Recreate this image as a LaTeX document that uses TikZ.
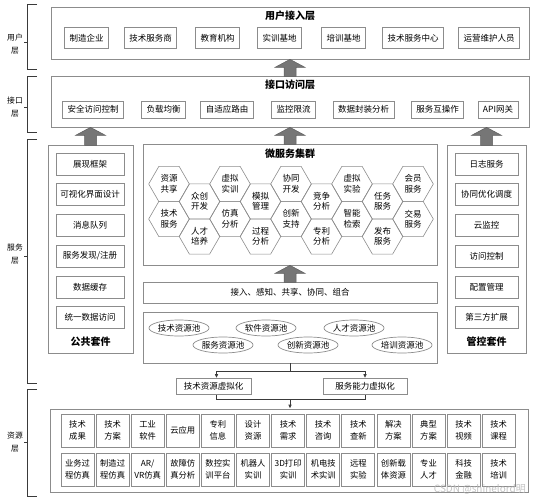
\documentclass[tikz,border=0pt]{standalone}
\usepackage{fontspec}
\setmainfont{Noto Sans CJK SC}
\usepackage{xcolor}
\usetikzlibrary{shapes.geometric,arrows.meta}

\definecolor{boxgray}{HTML}{8C8C8C}
\definecolor{arrowgray}{HTML}{767676}
\definecolor{linedark}{HTML}{3A3A3A}

\tikzset{
  layerbox/.style={draw=boxgray, line width=0.7pt},
  itembox/.style={draw=boxgray, line width=0.7pt, inner xsep=5pt, inner ysep=0pt, font=\fontsize{8.5}{10}\selectfont},
  sidebox/.style={draw=boxgray, line width=0.7pt, minimum width=68pt, minimum height=22pt, inner sep=0pt, font=\fontsize{8.5}{10}\selectfont},
  hexa/.style={regular polygon, regular polygon sides=6, draw=boxgray, line width=0.6pt, minimum size=40.6pt, inner sep=0pt, align=center, font=\fontsize{8.5}{10.5}\selectfont},
  pool/.style={ellipse, draw=boxgray, line width=0.7pt, minimum width=59pt, minimum height=16pt, inner sep=0pt, font=\fontsize{8.5}{10}\selectfont},
  resbox/.style={draw=boxgray, line width=0.7pt, minimum width=33pt, minimum height=33pt, inner sep=0pt, align=center, font=\fontsize{8.3}{12.5}\selectfont},
  title/.style={font=\bfseries\fontsize{10}{12}\selectfont, inner sep=0pt},
  blockarrow/.style={fill=arrowgray, draw=arrowgray!80!black, line width=0.5pt},
  brace/.style={draw=linedark, line width=0.8pt},
  layerlabel/.style={fill=white, inner sep=1pt, align=center, font=\fontsize{7.8}{12.5}\selectfont},
  conn/.style={draw=linedark, line width=0.8pt},
}

\begin{document}
\begin{tikzpicture}[x=1pt, y=-1pt]
\useasboundingbox (0,0) rectangle (534,500);

% layer brackets
\draw[brace] (37,4) -- (27,4) -- (27,69) -- (37,69);
\draw[brace] (6,42) -- (27,42);
\node[layerlabel] (lbuser) at (15,44) {用户\\层};
\draw[brace] (37,76) -- (27,76) -- (27,132) -- (37,132);
\draw[brace] (6,107) -- (27,107);
\node[layerlabel] (lbintf) at (15,107) {接口\\层};
\draw[brace] (37,139) -- (27,139) -- (27,383) -- (37,383);
\draw[brace] (6,256) -- (27,256);
\node[layerlabel] (lbserv) at (15,254) {服务\\层};
\draw[brace] (37,389) -- (27,389) -- (27,496) -- (37,496);
\draw[brace] (6,442) -- (27,442);
\node[layerlabel] (lbres) at (15,442) {资源\\层};

% user access layer
\node[layerbox, minimum width=478pt, minimum height=52pt] (user) at (290,33) {};
\node[title] (usertitle) at (290,16) {用户接入层};
\node[itembox, minimum height=21pt] (u1) at (86.5,38) {制造企业};
\node[itembox, minimum height=21pt] (u2) at (150.5,38) {技术服务商};
\node[itembox, minimum height=21pt] (u3) at (217.5,38) {教育机构};
\node[itembox, minimum height=21pt] (u4) at (279.5,38) {实训基地};
\node[itembox, minimum height=21pt] (u5) at (343.5,38) {培训基地};
\node[itembox, minimum height=21pt] (u6) at (413,38) {技术服务中心};
\node[itembox, minimum height=21pt] (u7) at (489,38) {运营维护人员};

% interface layer
\node[layerbox, minimum width=478pt, minimum height=51pt] (intf) at (290,101.5) {};
\node[title] (intftitle) at (290,85) {接口访问层};
\node[itembox, minimum height=17pt] (i1) at (93,109.5) {安全访问控制};
\node[itembox, minimum height=17pt] (i2) at (163.5,109.5) {负载均衡};
\node[itembox, minimum height=17pt] (i3) at (227,109.5) {自适应路由};
\node[itembox, minimum height=17pt] (i4) at (293.5,109.5) {监控限流};
\node[itembox, minimum height=17pt] (i5) at (363.5,109.5) {数据封装分析};
\node[itembox, minimum height=17pt] (i6) at (437.5,109.5) {服务互操作};
\node[itembox, minimum height=17pt] (i7) at (498,109.5) {API网关};

% public kit
\node[layerbox, minimum width=85pt, minimum height=208pt] (pub) at (90.5,249) {};
\node[sidebox] (p1) at (90,164) {展现框架};
\node[sidebox] (p2) at (90,194.5) {可视化界面设计};
\node[sidebox] (p3) at (90,225.5) {消息队列};
\node[sidebox] (p4) at (90,256) {服务发现/注册};
\node[sidebox] (p5) at (90,287) {数据缓存};
\node[sidebox] (p6) at (90,317) {统一数据访问};
\node[title] (pubtitle) at (90.5,342) {公共套件};

% control kit
\node[layerbox, minimum width=79pt, minimum height=208pt] (ctrl) at (486.5,249) {};
\node[sidebox, minimum width=63pt] (c1) at (486.5,164) {日志服务};
\node[sidebox, minimum width=63pt] (c2) at (486.5,194.5) {协同优化调度};
\node[sidebox, minimum width=63pt] (c3) at (486.5,225.5) {云监控};
\node[sidebox, minimum width=63pt] (c4) at (486.5,256) {访问控制};
\node[sidebox, minimum width=63pt] (c5) at (486.5,287) {配置管理};
\node[sidebox, minimum width=63pt] (c6) at (486.5,317) {第三方扩展};
\node[title] (ctrltitle) at (486.5,342) {管控套件};

% micro service cluster
\node[layerbox, minimum width=294pt, minimum height=121pt] (micro) at (290,204.5) {};
\node[title] (microtitle) at (290,154) {微服务集群};
\node[hexa] (h1) at (169,184) {资源\\共享};
\node[hexa] (h2) at (169,219) {技术\\服务};
\node[hexa] (h3) at (199.5,201.5) {众创\\开发};
\node[hexa] (h4) at (199.5,236.5) {人才\\培养};
\node[hexa] (h5) at (230,184) {虚拟\\实训};
\node[hexa] (h6) at (230,219) {仿真\\分析};
\node[hexa] (h7) at (260.5,201.5) {模拟\\管理};
\node[hexa] (h8) at (260.5,236.5) {过程\\分析};
\node[hexa] (h9) at (291,184) {协同\\开发};
\node[hexa] (h10) at (291,219) {创新\\支持};
\node[hexa] (h11) at (321.5,201.5) {竞争\\分析};
\node[hexa] (h12) at (321.5,236.5) {专利\\分析};
\node[hexa] (h13) at (352,184) {虚拟\\实验};
\node[hexa] (h14) at (352,219) {智能\\检索};
\node[hexa] (h15) at (382.5,201.5) {任务\\服务};
\node[hexa] (h16) at (382.5,236.5) {发布\\服务};
\node[hexa] (h17) at (413,184) {会员\\服务};
\node[hexa] (h18) at (413,219) {交易\\服务};

% access strip and resource pools
\node[layerbox, minimum width=294pt, minimum height=21pt, font=\fontsize{8.5}{10}\selectfont] (access) at (290,292.5) {接入、感知、共享、协同、组合};
\node[layerbox, minimum width=294pt, minimum height=51pt] (pools) at (290,337.5) {};
\node[pool] (o1) at (179,328) {技术资源池};
\node[pool] (o2) at (223,345) {服务资源池};
\node[pool] (o3) at (266,328) {软件资源池};
\node[pool] (o4) at (308,345) {创新资源池};
\node[pool] (o5) at (354,328) {人才资源池};
\node[pool] (o6) at (402,345) {培训资源池};

% virtualization
\node[itembox, minimum width=75pt, minimum height=16pt] (tv) at (213.5,386.5) {技术资源虚拟化};
\node[itembox, minimum width=84pt, minimum height=16pt] (sv) at (365,386.5) {服务能力虚拟化};
\coordinate (split) at (290,371);
\coordinate (merge) at (290,399);
\draw[conn] (pools.south -| split) -- (split);
\draw[conn, -{Latex[length=4pt,width=3.6pt]}] (split) -| ([xshift=3pt]tv.north);
\draw[conn, -{Latex[length=4pt,width=3.6pt]}] (split) -| (sv.north);
\draw[conn] ([xshift=3pt]tv.south) |- (merge);
\draw[conn] (sv.south) |- (merge);

% resource layer
\node[layerbox, minimum width=478pt, minimum height=83pt] (res) at (289,450.5) {};
\draw[conn, -{Latex[length=4pt,width=3.6pt]}] (merge) -- (res.north -| merge);
\node[resbox] (r1) at (77.5,430.5) {技术\\成果};
\node[resbox] (r2) at (112.6,430.5) {技术\\方案};
\node[resbox] (r3) at (147.7,430.5) {工业\\软件};
\node[resbox] (r4) at (182.8,430.5) {云应用};
\node[resbox] (r5) at (217.9,430.5) {专利\\信息};
\node[resbox] (r6) at (253,430.5) {设计\\资源};
\node[resbox] (r7) at (288.1,430.5) {技术\\需求};
\node[resbox] (r8) at (323.2,430.5) {技术\\咨询};
\node[resbox] (r9) at (358.3,430.5) {技术\\查新};
\node[resbox] (r10) at (393.4,430.5) {解决\\方案};
\node[resbox] (r11) at (428.5,430.5) {典型\\方案};
\node[resbox] (r12) at (463.6,430.5) {技术\\视频};
\node[resbox] (r13) at (498.7,430.5) {技术\\课程};
\node[resbox] (s1) at (77.5,469.5) {业务过\\程仿真};
\node[resbox] (s2) at (112.6,469.5) {制造过\\程仿真};
\node[resbox] (s3) at (147.7,469.5) {AR/\\VR仿真};
\node[resbox] (s4) at (182.8,469.5) {故障仿\\真分析};
\node[resbox] (s5) at (217.9,469.5) {数控实\\训平台};
\node[resbox] (s6) at (253,469.5) {机器人\\实训};
\node[resbox] (s7) at (288.1,469.5) {3D打印\\实训};
\node[resbox] (s8) at (323.2,469.5) {机电技\\术实训};
\node[resbox] (s9) at (358.3,469.5) {远程\\实验};
\node[resbox] (s10) at (393.4,469.5) {创新载\\体资源};
\node[resbox] (s11) at (428.5,469.5) {专业\\人才};
\node[resbox] (s12) at (463.6,469.5) {科技\\金融};
\node[resbox] (s13) at (498.7,469.5) {技术\\培训};

% block arrows between layers
\draw[blockarrow] (user.south) -- ++(15,8) -- ++(-9,0) -- ++(0,9) -- ++(-12,0) -- ++(0,-9) -- ++(-9,0) -- cycle;
\draw[blockarrow] (intf.south -| pub.north) -- ++(15,8) -- ++(-9,0) -- ++(0,10) -- ++(-12,0) -- ++(0,-10) -- ++(-9,0) -- cycle;
\draw[blockarrow] (intf.south) -- ++(15,8) -- ++(-9,0) -- ++(0,9) -- ++(-12,0) -- ++(0,-9) -- ++(-9,0) -- cycle;
\draw[blockarrow] (intf.south -| ctrl.north) -- ++(15,8) -- ++(-9,0) -- ++(0,10) -- ++(-12,0) -- ++(0,-10) -- ++(-9,0) -- cycle;
\draw[blockarrow] (micro.south) -- ++(15,8) -- ++(-9,0) -- ++(0,9) -- ++(-12,0) -- ++(0,-9) -- ++(-9,0) -- cycle;

\node[text=gray!55, opacity=0.85, anchor=east, inner sep=0pt, font=\fontsize{10}{12}\selectfont] (mark) at (526,489) {CSDN @shinelord明};
\end{tikzpicture}
\end{document}
